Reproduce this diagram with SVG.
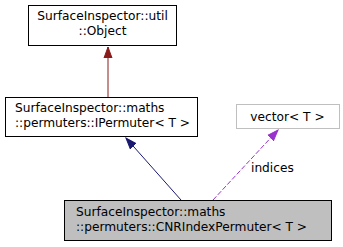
<svg xmlns="http://www.w3.org/2000/svg" width="343" height="247" viewBox="0 0 343 247">
<defs>
<style>
text{font-family:"DejaVu Sans",sans-serif;font-size:12.2px;fill:#000}
.box{fill:#fff;stroke:#000;stroke-width:1}
.cur{fill:#bfbfbf;stroke:#000;stroke-width:1}
.ext{fill:#fff;stroke:#bfbfbf;stroke-width:1}
.edge{fill:none;stroke-width:1}
</style>
<marker id="hRed" markerWidth="12" markerHeight="10" refX="11" refY="5" orient="auto" markerUnits="userSpaceOnUse"><path d="M0,1 L11,5 L0,9 Z" fill="#8b1a1a" stroke="#8b1a1a"/></marker>
<marker id="hBlue" markerWidth="12" markerHeight="10" refX="11" refY="5" orient="auto" markerUnits="userSpaceOnUse"><path d="M0,1 L11,5 L0,9 Z" fill="#191970" stroke="#191970"/></marker>
<marker id="hPurple" markerWidth="12" markerHeight="10" refX="11" refY="5" orient="auto" markerUnits="userSpaceOnUse"><path d="M0,1 L11,5 L0,9 Z" fill="#9a32cd" stroke="#9a32cd"/></marker>
</defs>
<g id="connectors">
<path class="edge" d="M108,97 L108,47" stroke="#8b1a1a" marker-end="url(#hRed)"/>
<path class="edge" d="M181,200 L126,138" stroke="#191970" marker-end="url(#hBlue)"/>
<path class="edge" d="M213,200 L278,130" stroke="#9a32cd" stroke-dasharray="5,2" marker-end="url(#hPurple)"/>
<text x="251" y="172">indices</text>
</g>
<g id="node-object">
<rect class="box" x="28.5" y="5.5" width="148" height="40"/>
<text x="102.5" y="20" text-anchor="middle">SurfaceInspector::util</text>
<text x="102.5" y="34.5" text-anchor="middle">::Object</text>
</g>
<g id="node-ipermuter">
<rect class="box" x="5.5" y="97.5" width="192" height="39"/>
<text x="15" y="112">SurfaceInspector::maths</text>
<text x="15" y="126.5">::permuters::IPermuter&lt; T &gt;</text>
</g>
<g id="node-vector">
<rect class="ext" x="236.5" y="104.5" width="103" height="24"/>
<text x="287.5" y="121" text-anchor="middle">vector&lt; T &gt;</text>
</g>
<g id="node-cnr">
<rect class="cur" x="64.5" y="200.5" width="267" height="40"/>
<text x="76" y="216">SurfaceInspector::maths</text>
<text x="76" y="230.5">::permuters::CNRIndexPermuter&lt; T &gt;</text>
</g>
</svg>
